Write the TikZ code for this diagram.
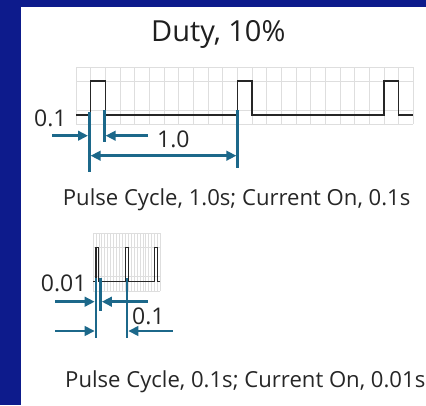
\documentclass[tikz,border=0pt]{standalone}
\usepackage{fontspec}
\setmainfont{Open Sans}
\usetikzlibrary{arrows.meta}
\definecolor{framebg}{RGB}{13,27,140}
\definecolor{dimcol}{RGB}{28,104,138}
\definecolor{gridcol}{RGB}{222,222,222}

\begin{document}
\begin{tikzpicture}[x=1pt, y=-1pt,
    title/.style={inner sep=0pt, anchor=base, font=\fontsize{29}{32}\selectfont, text=black!88},
    lbl/.style={inner sep=0pt, anchor=base west, font=\fontsize{23}{26}\selectfont, text=black!85},
    caption/.style={inner sep=0pt, anchor=base west, font=\fontsize{22.1}{25}\selectfont, text=black!85},
    wave/.style={line width=1.3pt, black!85},
    gridline/.style={line width=1pt, gridcol},
    dim/.style={line width=2.7pt, dimcol},
    dimarrow/.style={line width=2.5pt, dimcol, -{Triangle[length=10pt,width=9.5pt]}},
    dimboth/.style={line width=2.5pt, dimcol, {Triangle[length=10pt,width=9.5pt]}-{Triangle[length=10pt,width=9.5pt]}}
]
\useasboundingbox (0,0) rectangle (426,405);
\clip (0,0) rectangle (426,405);
\fill[white] (0,0) rectangle (426,405);
\fill[framebg] (0,0) rectangle (426,7);
\fill[framebg] (0,0) rectangle (21,405);

\node[title] (duty) at (218.3,41) {Duty, 10\%};

\foreach \k in {0,...,23}
  \draw[gridline] (76+\k*14.667,67) -- (76+\k*14.667,124);
\foreach \y in {67,81,110,124}
  \draw[gridline] (76,\y) -- (413.3,\y);
\draw[wave] (76,115) \foreach \p in {90.667,237.333,384} { -- (\p,115) -- (\p,81) -- (\p+14.667,81) -- (\p+14.667,115) } -- (413.3,115);

\coordinate (a1) at (89.3,112);  \coordinate (b1) at (89.3,172);
\coordinate (a2) at (104.3,110); \coordinate (b2) at (104.3,142);
\coordinate (a3) at (237.7,110); \coordinate (b3) at (237.7,168);
\coordinate (onin) at (52,135.7);
\coordinate (onout) at (148,135.7);
\coordinate (cyc) at (160,155.7);
\draw[dim] (a1) -- (b1);
\draw[dim] (a2) -- (b2);
\draw[dim] (a3) -- (b3);
\draw[dimarrow] (onin) -- ([xshift=-1.3pt]onin -| a1);
\draw[dimarrow] (onout) -- ([xshift=1.3pt]onout -| a2);
\draw[dimboth] ([xshift=1.3pt]cyc -| a1) -- ([xshift=-1.3pt]cyc -| a3);
\node[lbl] (on1) at (34,126.7) {0.1};
\node[lbl] (cyc1) at (157,147.7) {1.0};
\node[caption] (cap1) at (62.7,205) {Pulse Cycle, 1.0s; Current On, 0.1s};

\foreach \k in {0,...,23}
  \draw[gridline, line width=0.6pt] (93+\k*2.93,233.3) -- (93+\k*2.93,291);
\foreach \y in {233.3,247.3,276.3,291}
  \draw[gridline] (93,\y) -- (160.4,\y);
\draw[wave, line width=1.2pt] (93,281.7) \foreach \p in {95.93,125.23,154.53} { -- (\p,281.7) -- (\p,247.3) -- (\p+2.93,247.3) -- (\p+2.93,281.7) } -- (160.4,281.7);

\coordinate (c1) at (96,278);  \coordinate (d1) at (96,338);
\coordinate (c2) at (100.5,278); \coordinate (d2) at (100.5,310.7);
\coordinate (c3) at (127,278); \coordinate (d3) at (127,338);
\coordinate (onin2) at (55,301.7);
\coordinate (onout2) at (147.7,301.7);
\coordinate (cycin2) at (55,331);
\coordinate (cycout2) at (172.7,331);
\draw[dim] (c1) -- (d1);
\draw[dim] (c2) -- (d2);
\draw[dim] (c3) -- (d3);
\draw[dimarrow] (onin2) -- ([xshift=-1.3pt]onin2 -| c1);
\draw[dimarrow] (onout2) -- ([xshift=1.3pt]onout2 -| c2);
\draw[dimarrow] (cycin2) -- ([xshift=-1.3pt]cycin2 -| c1);
\draw[dimarrow] (cycout2) -- ([xshift=1.3pt]cycout2 -| c3);
\node[lbl] (on2) at (40.7,291) {0.01};
\node[lbl] (cyc2) at (132,324) {0.1};
\node[caption] (cap2) at (65,387.3) {Pulse Cycle, 0.1s; Current On, 0.01s};
\end{tikzpicture}
\end{document}
